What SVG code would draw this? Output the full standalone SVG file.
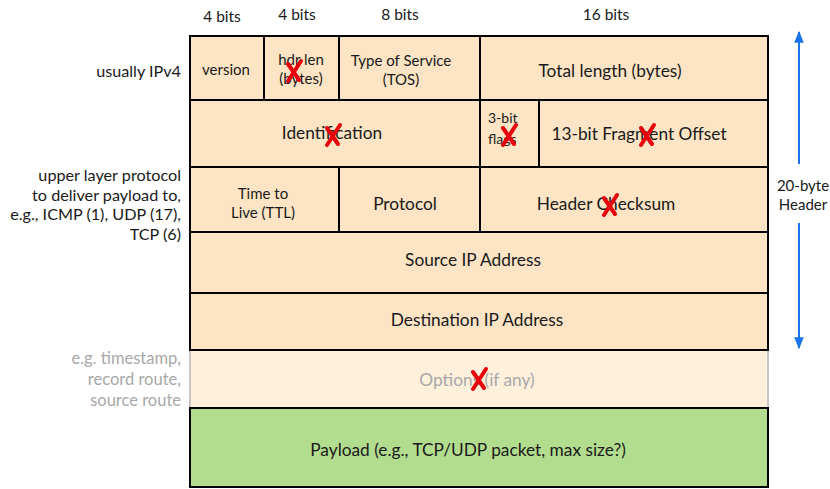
<svg xmlns="http://www.w3.org/2000/svg" width="830" height="489" viewBox="0 0 830 489">
<style>
text{font-family:Lato,"Open Sans","Liberation Sans",sans-serif;fill:#1a1a1a;text-anchor:middle}
.f{fill:#fce4c4;stroke:#000;stroke-width:2}
.s13{font-size:15px}
.s14{font-size:15.5px}
.s16{font-size:17.3px}
.r{text-anchor:end;font-size:16.2px}
.g{fill:#a8a8a8}
.x{stroke:#e8000b;stroke-width:4;stroke-linecap:round;fill:none}
.ar{stroke:#1a73e8;stroke-width:2;fill:none}
</style>
<defs>
<g id="xm"><path class="x" d="M-6,10 L7,-10"/><path class="x" d="M-6,-7 L5,9"/></g>
<marker id="ah" viewBox="0 0 10 10" refX="9" refY="5" markerWidth="6" markerHeight="6" orient="auto-start-reverse"><path d="M0,1 L10,5 L0,9 z" fill="#1a73e8"/></marker>
</defs>
<g id="bit-labels">
<text class="s14" x="222" y="22">4 bits</text>
<text class="s14" x="297" y="20">4 bits</text>
<text class="s14" x="400" y="20">8 bits</text>
<text class="s14" x="606" y="20">16 bits</text>
</g>
<g id="side-labels">
<text class="r" x="181" y="77">usually IPv4</text>
<text class="r" x="181" y="181">upper layer protocol</text>
<text class="r" x="181" y="201">to deliver payload to,</text>
<text class="r" x="181" y="220">e.g., ICMP (1), UDP (17),</text>
<text class="r" x="181" y="240">TCP (6)</text>
<text class="r g" x="181" y="364" style="font-size:16.5px">e.g. timestamp,</text>
<text class="r g" x="181" y="385" style="font-size:16.5px">record route,</text>
<text class="r g" x="181" y="406" style="font-size:16.5px">source route</text>
</g>
<g id="options">
<rect x="190" y="350" width="578" height="58" fill="#fef0db" stroke="#c8c8c8" stroke-width="2"/>
<text class="s16 g" x="477" y="386">Options (if any)</text>
</g>
<g id="payload">
<rect class="f" x="190" y="408" width="578" height="79" style="fill:#b2dd8e"/>
<text class="s16" x="468" y="456">Payload (e.g., TCP/UDP packet, max size?)</text>
</g>
<g id="version"><rect class="f" x="190" y="36" width="74" height="64"/><text class="s13" x="226" y="75">version</text></g>
<g id="hdrlen"><rect class="f" x="264" y="36" width="75" height="64"/><text class="s13" x="301" y="65">hdr len</text><text class="s13" x="301" y="84">(bytes)</text></g>
<g id="tos"><rect class="f" x="339" y="36" width="141" height="64"/><text class="s13" x="401" y="66">Type of Service</text><text class="s13" x="401" y="85">(TOS)</text></g>
<g id="totlen"><rect class="f" x="480" y="36" width="288" height="64"/><text class="s16" x="610" y="77">Total length (bytes)</text></g>
<g id="ident"><rect class="f" x="190" y="100" width="290" height="67"/><text class="s16" x="332" y="139">Identification</text></g>
<g id="flags"><rect class="f" x="480" y="100" width="59" height="67"/><text class="s13" x="488" y="123" style="text-anchor:start;font-size:14px">3-bit</text><text class="s13" x="488" y="144" style="text-anchor:start;font-size:14px">flags</text></g>
<g id="fragoff"><rect class="f" x="539" y="100" width="229" height="67"/><text class="s16" x="639" y="140">13-bit Fragment Offset</text></g>
<g id="ttl"><rect class="f" x="190" y="167" width="149" height="65"/><text class="s13" x="263" y="199">Time to</text><text class="s13" x="263" y="218">Live (TTL)</text></g>
<g id="protocol"><rect class="f" x="339" y="167" width="141" height="65"/><text class="s16" x="405" y="210">Protocol</text></g>
<g id="checksum"><rect class="f" x="480" y="167" width="288" height="65"/><text class="s16" x="606" y="210">Header Checksum</text></g>
<g id="srcip"><rect class="f" x="190" y="232" width="578" height="61"/><text class="s16" x="473" y="266">Source IP Address</text></g>
<g id="dstip"><rect class="f" x="190" y="293" width="578" height="57"/><text class="s16" x="477" y="326">Destination IP Address</text></g>
<g id="crosses">
<use href="#xm" x="294" y="71"/>
<use href="#xm" x="333" y="135"/>
<use href="#xm" x="509" y="135"/>
<use href="#xm" x="647" y="135"/>
<use href="#xm" x="610" y="205"/>
<use href="#xm" x="479" y="379"/>
</g>
<g id="connectors">
<line class="ar" x1="799" y1="164" x2="799" y2="32" marker-end="url(#ah)"/>
<line class="ar" x1="799" y1="223" x2="799" y2="348" marker-end="url(#ah)"/>
</g>
<g id="header-label">
<text class="s14" x="803" y="191" style="font-size:15px">20-byte</text>
<text class="s14" x="803" y="210" style="font-size:15px">Header</text>
</g>
</svg>
